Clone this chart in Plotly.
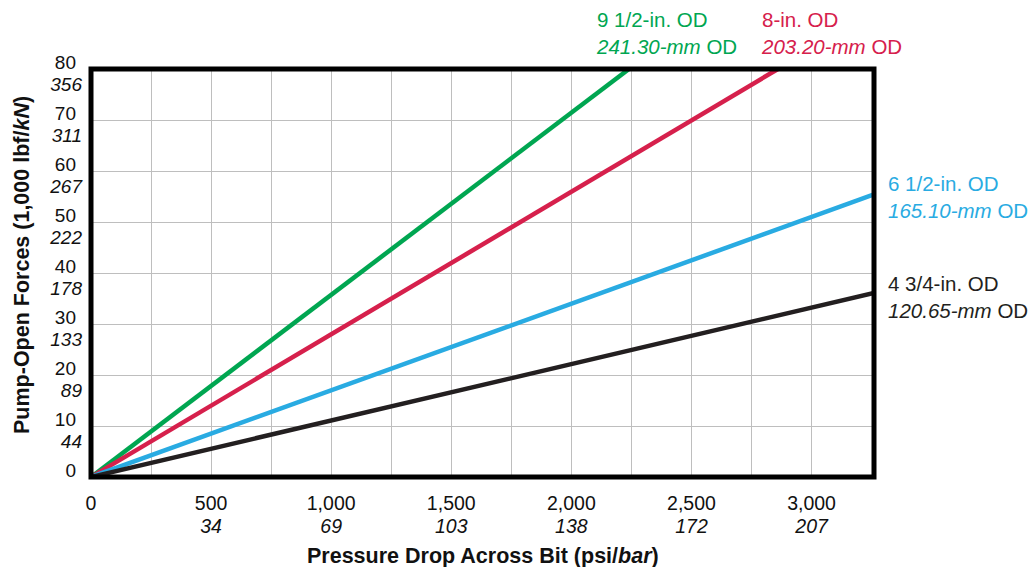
import plotly.graph_objects as go

# Axis ticks: imperial values with metric equivalents underneath
psi_ticks = [0, 250, 500, 750, 1000, 1250, 1500, 1750, 2000, 2250, 2500, 2750, 3000]
psi_text = ["0", "", "500", "", "1,000", "", "1,500", "", "2,000", "", "2,500", "", "3,000"]
bar_text = ["", "", "34", "", "69", "", "103", "", "138", "", "172", "", "207"]

klbf_ticks = [0, 10, 20, 30, 40, 50, 60, 70, 80]
klbf_text = ["0", "10", "20", "30", "40", "50", "60", "70", "80"]
kn_text = ["", "44", "89", "133", "178", "222", "267", "311", "356"]

# Pump-open force lines: each runs from the origin to an end point (psi, 1,000 lbf)
od_in = ["9 1/2-in. OD", "8-in. OD", "6 1/2-in. OD", "4 3/4-in. OD"]
od_mm = ["241.30-mm", "203.20-mm", "165.10-mm", "120.65-mm"]
end_psi = [2240, 2860, 3260, 3260]
end_force = [80, 80, 55.4, 36.1]
colors = ["#00A651", "#D6204C", "#29ABE2", "#231F20"]

X_MAX = 3260
Y_MAX = 80
FONT = "Arial, Liberation Sans, sans-serif"
TICK_FONT = dict(family=FONT, size=19.5, color="#111")
TICK_FONT_IT = dict(family=FONT, size=19.5, color="#111", style="italic")
Y_TICK_FONT = dict(family=FONT, size=19, color="#111")
Y_TICK_FONT_IT = dict(family=FONT, size=19, color="#111", style="italic")

W, H = 1036, 567
L, R, T, B = 91, 162, 69, 90

fig = go.Figure()
for name, x1, y1, c in zip(od_in, end_psi, end_force, colors):
    fig.add_trace(go.Scatter(
        x=[0, x1], y=[0, y1], mode="lines", name=name,
        line=dict(color=c, width=4.5), cliponaxis=True, hoverinfo="skip",
    ))
# invisible trace that keeps the metric overlay axes alive
fig.add_trace(go.Scatter(x=[0], y=[0], xaxis="x2", yaxis="y2", mode="markers",
                         marker=dict(opacity=0), hoverinfo="skip"))

grid = dict(showgrid=True, gridcolor="#BEBEBE", gridwidth=1, zeroline=False, ticks="")
fig.update_layout(
    xaxis=dict(range=[0, X_MAX], tickmode="array", tickvals=psi_ticks, ticktext=psi_text,
               ticklabelstandoff=12, tickfont=TICK_FONT, **grid),
    xaxis2=dict(range=[0, X_MAX], tickmode="array", tickvals=psi_ticks, ticktext=bar_text,
                overlaying="x", anchor="y", side="bottom", showgrid=False, zeroline=False,
                ticks="", ticklabelstandoff=35, tickfont=TICK_FONT_IT),
    yaxis=dict(range=[0, Y_MAX], tickmode="array", tickvals=klbf_ticks, ticktext=klbf_text,
               ticklabelstandoff=14, ticklabelshift=-7, tickfont=Y_TICK_FONT, **grid),
    yaxis2=dict(range=[0, Y_MAX], tickmode="array", tickvals=klbf_ticks, ticktext=kn_text,
                overlaying="y", anchor="x", side="left", showgrid=False, zeroline=False,
                ticks="", ticklabelstandoff=8, ticklabelshift=15, tickfont=Y_TICK_FONT_IT),
)

# Heavy black frame around the plotting area
fig.add_shape(type="rect", xref="paper", yref="paper", x0=0, y0=0, x1=1, y1=1,
              line=dict(color="black", width=5), layer="above")


def px_to_paper(px, py):
    return (px - L) / (W - L - R), 1 - (py - T) / (H - T - B)


# Axis titles
tx, ty = px_to_paper(483, 556)
fig.add_annotation(text="<b>Pressure Drop Across Bit (psi/<i>bar</i>)</b>", showarrow=False,
                   xref="paper", yref="paper", x=tx, y=ty, xanchor="center", yanchor="middle",
                   font=dict(family=FONT, size=21.5, color="#111"))
tx, ty = px_to_paper(22, 265)
fig.add_annotation(text="<b>Pump-Open Forces (1,000 lbf/<i>kN</i>)</b>", showarrow=False,
                   textangle=-90, xref="paper", yref="paper", x=tx, y=ty,
                   xanchor="center", yanchor="middle",
                   font=dict(family=FONT, size=21.5, color="#111"))

# Series labels
label_pos = [(594, 32.5), (759, 32.5), (886, 197), (886, 297)]
for name, mm, c, (px, py) in zip(od_in, od_mm, colors, label_pos):
    ax, ay = px_to_paper(px, py)
    fig.add_annotation(
        text=f"{name}<br><i>{mm}</i> OD", showarrow=False, align="left",
        xref="paper", yref="paper", x=ax, y=ay, xanchor="left", yanchor="middle",
        font=dict(family=FONT, size=20.5, color=c),
    )

fig.update_layout(
    width=W, height=H, margin=dict(l=L, r=R, t=T, b=B),
    paper_bgcolor="white", plot_bgcolor="white", showlegend=False,
)

fig.write_html("out.html")
